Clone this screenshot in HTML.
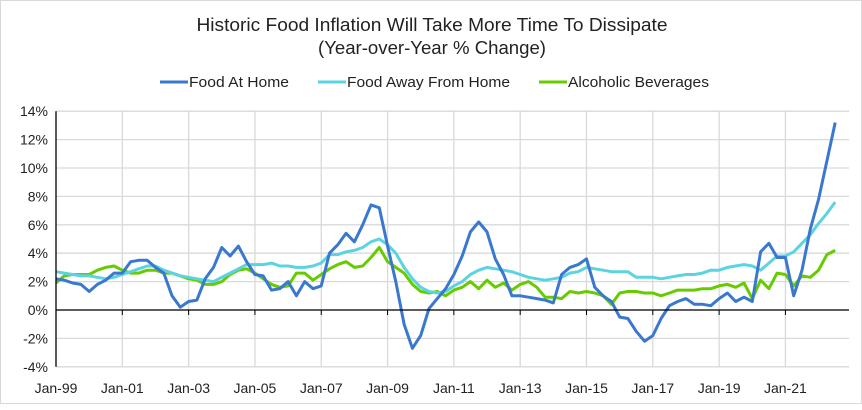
<!DOCTYPE html>
<html><head><meta charset="utf-8"><style>
body{margin:0;background:#fff}
#wrap{position:relative;width:860px;height:402px;border:1px solid #d9d9d9;background:#fff;font-family:"Liberation Sans",sans-serif}
svg text{font-family:"Liberation Sans",sans-serif;fill:#222}
</style></head><body>
<div id="wrap">
<svg id="chart" width="862" height="404" viewBox="-1 -1 862 404">
<text x="430" y="29" text-anchor="middle" font-size="18" textLength="471" lengthAdjust="spacingAndGlyphs">Historic Food Inflation Will Take More Time To Dissipate</text>
<text x="430" y="52" text-anchor="middle" font-size="18" textLength="228" lengthAdjust="spacingAndGlyphs">(Year-over-Year % Change)</text>
<g>
<g><line x1="158" y1="80" x2="186" y2="80" stroke="#3A78CF" stroke-width="3"/><text x="187" y="85" font-size="15" textLength="100" lengthAdjust="spacingAndGlyphs">Food At Home</text></g>
<g><line x1="316" y1="80" x2="344" y2="80" stroke="#5CD3E0" stroke-width="3"/><text x="345" y="85" font-size="15" textLength="163" lengthAdjust="spacingAndGlyphs">Food Away From Home</text></g>
<g><line x1="537" y1="80" x2="565" y2="80" stroke="#66CC00" stroke-width="3"/><text x="566" y="85" font-size="15" textLength="141" lengthAdjust="spacingAndGlyphs">Alcoholic Beverages</text></g>
</g>
<g id="grid"></g><g id="series"></g><g id="axes"></g>
</svg>
</div>
<script>
const xTickLabels=["Jan-99","Jan-01","Jan-03","Jan-05","Jan-07","Jan-09","Jan-11","Jan-13","Jan-15","Jan-17","Jan-19","Jan-21"];
const yTicks=[-4,-2,0,2,4,6,8,10,12,14];
const foodAtHome=[2.2,2.1,1.9,1.8, 1.3,1.8,2.1,2.6, 2.6,3.4,3.5,3.5, 3.0,2.6,1.0,0.2, 0.6,0.7,2.2,3.0, 4.4,3.8,4.5,3.4, 2.5,2.4,1.4,1.5, 2.0,1.0,2.0,1.5, 1.7,4.0,4.6,5.4, 4.8,6.0,7.4,7.2, 4.5,2.0,-1.0,-2.7, -1.8,0.1,0.8,1.5, 2.5,3.8,5.5,6.2, 5.5,3.6,2.5,1.0, 1.0,0.9,0.8,0.7, 0.5,2.5,3.0,3.2, 3.6,1.6,1.0,0.6, -0.5,-0.6,-1.5,-2.2, -1.8,-0.6,0.3,0.6, 0.8,0.4,0.4,0.3, 0.8,1.2,0.6,0.9, 0.6,4.1,4.7,3.7, 3.7,1.0,2.8,5.7, 7.8,10.5,13.2];
const foodAway=[2.7,2.6,2.5,2.4, 2.4,2.3,2.2,2.3, 2.5,2.7,2.9,3.1, 3.1,2.8,2.6,2.4, 2.3,2.2,2.1,2.0, 2.3,2.6,2.9,3.2, 3.2,3.2,3.3,3.1, 3.1,3.0,3.0,3.1, 3.3,3.9,3.9,4.1, 4.2,4.4,4.8,5.0, 4.6,4.0,3.0,2.2, 1.6,1.3,1.2,1.3, 1.7,2.0,2.5,2.8, 3.0,2.9,2.8,2.7, 2.5,2.3,2.2,2.1, 2.2,2.3,2.6,2.7, 3.0,2.9,2.8,2.7, 2.7,2.7,2.3,2.3, 2.3,2.2,2.3,2.4, 2.5,2.5,2.6,2.8, 2.8,3.0,3.1,3.2, 3.1,2.8,3.3,3.8, 3.8,4.1,4.7,5.3, 6.1,6.8,7.6];
const alcohol=[1.9,2.4,2.5,2.5, 2.5,2.8,3.0,3.1, 2.8,2.6,2.6,2.8, 2.8,2.6,2.6,2.4, 2.2,2.1,1.8,1.8, 2.0,2.5,2.8,2.9, 2.6,2.2,1.8,1.6, 1.7,2.6,2.6,2.1, 2.5,2.9,3.2,3.4, 3.0,3.1,3.7,4.4, 3.4,3.0,2.6,1.8, 1.3,1.2,1.3,1.0, 1.4,1.6,2.0,1.5, 2.1,1.6,1.9,1.4, 1.8,2.0,1.6,0.9, 0.9,0.8,1.3,1.2, 1.3,1.2,1.0,0.4, 1.2,1.3,1.3,1.2, 1.2,1.0,1.2,1.4, 1.4,1.4,1.5,1.5, 1.7,1.8,1.6,1.9, 0.8,2.1,1.5,2.6, 2.5,1.7,2.4,2.3, 2.8,3.9,4.2];
const monthsPerPoint=3;
const X0=54,MPX=2.763,Y0=308,PPP=14.2,RIGHT=847;
const xScale=m=>X0+m*MPX;
const yScale=v=>Y0-v*PPP;
const NS="http://www.w3.org/2000/svg";
function mk(tag,attrs,parent){const e=document.createElementNS(NS,tag);for(const k in attrs)e.setAttribute(k,attrs[k]);parent.appendChild(e);return e;}
const grid=document.getElementById('grid'),axes=document.getElementById('axes'),series=document.getElementById('series');
yTicks.forEach(v=>{
  const l=mk('line',{x1:X0,x2:RIGHT,y1:yScale(v),y2:yScale(v),stroke:'#d9d9d9','stroke-width':1.3},grid);
  
  
  const t=mk('text',{x:X0-8,y:yScale(v)+5,'text-anchor':'end','font-size':14},axes);
  t.textContent=v+'%';
  
  
});
xTickLabels.forEach((s,i)=>{
  const x=xScale(i*24);
  if(i>0){const g=mk('line',{x1:x,x2:x,y1:yScale(14),y2:yScale(-4),stroke:'#d9d9d9','stroke-width':1.3},grid);
  
  }
  const tk=mk('line',{x1:x,x2:x,y1:Y0,y2:Y0+5,stroke:'#000','stroke-width':1},axes);
  
  
  const t=mk('text',{x:x,y:391,'text-anchor':'middle','font-size':14},axes);
  t.textContent=s;
  
  
});
const za=mk('line',{x1:X0,x2:RIGHT,y1:Y0,y2:Y0,stroke:'#000','stroke-width':1.3},axes);


const ya=mk('line',{x1:X0,x2:X0,y1:yScale(14),y2:yScale(-4),stroke:'#000','stroke-width':1.3},axes);


function drawLine(arr,color,name){
  const d=arr.map((v,i)=>(i?'L':'M')+xScale(i*monthsPerPoint).toFixed(1)+','+yScale(v).toFixed(1)).join(' ');
  const p=mk('path',{d:d,fill:'none',stroke:color,'stroke-width':3,'stroke-linejoin':'round'},series);
  
  
}
drawLine(alcohol,'#66CC00','alcoholic-beverages-line');
drawLine(foodAway,'#5CD3E0','food-away-from-home-line');
drawLine(foodAtHome,'#3A78CF','food-at-home-line');
</script>
</body></html>
